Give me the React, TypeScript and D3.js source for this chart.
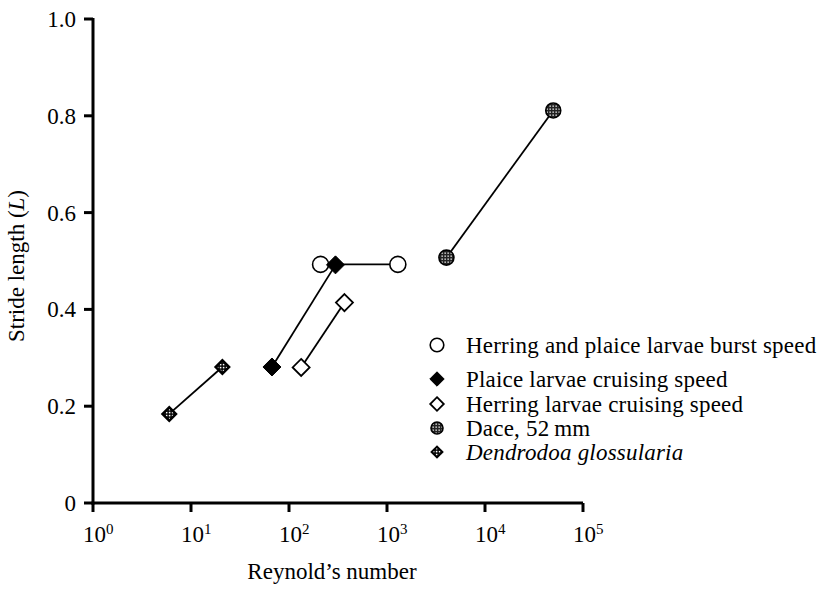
import React from 'react';
import * as d3 from 'd3';

const width = 824;
const height = 590;

// series values: [Reynold's number, stride length]
const burst: [number, number][] = [[210, 0.493], [1290, 0.493]];
const plaiceCruise: [number, number][] = [[67, 0.281], [298, 0.492]];
const herringCruise: [number, number][] = [[133, 0.28], [368, 0.414]];
const dace: [number, number][] = [[4040, 0.507], [49700, 0.811]];
const dendrodoa: [number, number][] = [[6, 0.184], [20.9, 0.281]];

const xTickExps = [0, 1, 2, 3, 4, 5];
const yTicks = [0, 0.2, 0.4, 0.6, 0.8, 1.0];
const legendLabels = [
  'Herring and plaice larvae burst speed',
  'Plaice larvae cruising speed',
  'Herring larvae cruising speed',
  'Dace, 52\u2009mm',
  'Dendrodoa glossularia',
];

const font = '"Liberation Serif", "Times New Roman", serif';
const fs = 23;

const x = d3.scaleLog().domain([1, 1e5]).range([93, 583]);
const y = d3.scaleLinear().domain([0, 1]).range([503, 19]);
const line = d3.line<[number, number]>().x(d => x(d[0])).y(d => y(d[1]));

const diamond = (cx: number, cy: number, r: number) =>
  `M${cx},${cy - r}L${cx + r},${cy}L${cx},${cy + r}L${cx - r},${cy}Z`;

type Kind = 'circle' | 'fdiamond' | 'odiamond' | 'dace' | 'dendro';

function Marker({ kind, cx, cy, s = 1 }: { kind: Kind; cx: number; cy: number; s?: number }) {
  if (kind === 'circle')
    return <circle cx={cx} cy={cy} r={8 * s} fill="white" stroke="black" strokeWidth={1.6} />;
  if (kind === 'dace')
    return <circle cx={cx} cy={cy} r={7.5 * s} fill="url(#stipple)" stroke="black" strokeWidth={1.6} />;
  if (kind === 'fdiamond')
    return <path d={diamond(cx, cy, 9 * s)} fill="black" stroke="black" strokeWidth={1} />;
  if (kind === 'odiamond')
    return <path d={diamond(cx, cy, 8.5 * s)} fill="white" stroke="black" strokeWidth={1.8} />;
  return (
    <g>
      <path d={diamond(cx, cy, 8.5 * s)} fill="black" />
      <path d={diamond(cx, cy, 5 * s)} fill="url(#hatch)" />
    </g>
  );
}

const series: { data: [number, number][]; kind: Kind }[] = [
  { data: dendrodoa, kind: 'dendro' },
  { data: burst, kind: 'circle' },
  { data: plaiceCruise, kind: 'fdiamond' },
  { data: herringCruise, kind: 'odiamond' },
  { data: dace, kind: 'dace' },
];

const legendKinds: Kind[] = ['circle', 'fdiamond', 'odiamond', 'dace', 'dendro'];
const legendY = [345, 379, 404, 428, 452];

export default function App() {
  return (
    <svg width={width} height={height} style={{ position: 'absolute', left: 0, top: 0 }} fontFamily={font}>
      <defs>
        <pattern id="stipple" width="3" height="3" patternUnits="userSpaceOnUse">
          <rect width="3" height="3" fill="#222" />
          <rect x="0.5" y="0.5" width="1.3" height="1.3" fill="white" />
        </pattern>
        <pattern id="hatch" width="3" height="3" patternUnits="userSpaceOnUse">
          <rect width="3" height="3" fill="black" />
          <rect x="0.8" y="0.8" width="1.6" height="1.6" fill="white" />
        </pattern>
      </defs>
      <rect width={width} height={height} fill="white" />

      {/* axes */}
      <line x1={x(1)} x2={x(1)} y1={y(1) - 1} y2={y(0) + 1.5} stroke="black" strokeWidth={3} />
      <line x1={x(1) - 1.5} x2={x(1e5)} y1={y(0)} y2={y(0)} stroke="black" strokeWidth={3} />
      {yTicks.map(t => (
        <g key={t}>
          <line x1={x(1) - 9} x2={x(1)} y1={y(t)} y2={y(t)} stroke="black" strokeWidth={3} />
          <text x={76} y={y(t)} dy="0.35em" textAnchor="end" fontSize={fs}>
            {t === 0 ? '0' : d3.format('.1f')(t)}
          </text>
        </g>
      ))}
      {xTickExps.map(e => (
        <g key={e}>
          <line x1={x(10 ** e)} x2={x(10 ** e)} y1={y(0)} y2={y(0) + 9} stroke="black" strokeWidth={3} />
          <text x={x(10 ** e) - 10} y={542} fontSize={fs}>
            10<tspan dy={-8} fontSize={15}>{e}</tspan>
          </text>
        </g>
      ))}
      <text x={332} y={579} textAnchor="middle" fontSize={fs}>Reynold’s number</text>
      <text transform={`translate(24,266) rotate(-90)`} textAnchor="middle" fontSize={fs}>
        Stride length (<tspan fontStyle="italic">L</tspan>)
      </text>

      {/* series */}
      {series.map((s, i) => (
        <path key={i} d={line(s.data) ?? ''} fill="none" stroke="black" strokeWidth={1.8} />
      ))}
      {series.map((s, i) =>
        s.data.map((d, j) => <Marker key={`${i}-${j}`} kind={s.kind} cx={x(d[0])} cy={y(d[1])} />)
      )}

      {/* legend */}
      {legendLabels.map((l, i) => (
        <g key={l}>
          <Marker kind={legendKinds[i]} cx={437} cy={legendY[i]} s={i === 0 ? 0.85 : 0.8} />
          <text x={466} y={legendY[i]} dy="0.33em" fontSize={fs} letterSpacing={0.2}
            fontStyle={i === 4 ? 'italic' : 'normal'}>
            {l}
          </text>
        </g>
      ))}
    </svg>
  );
}
